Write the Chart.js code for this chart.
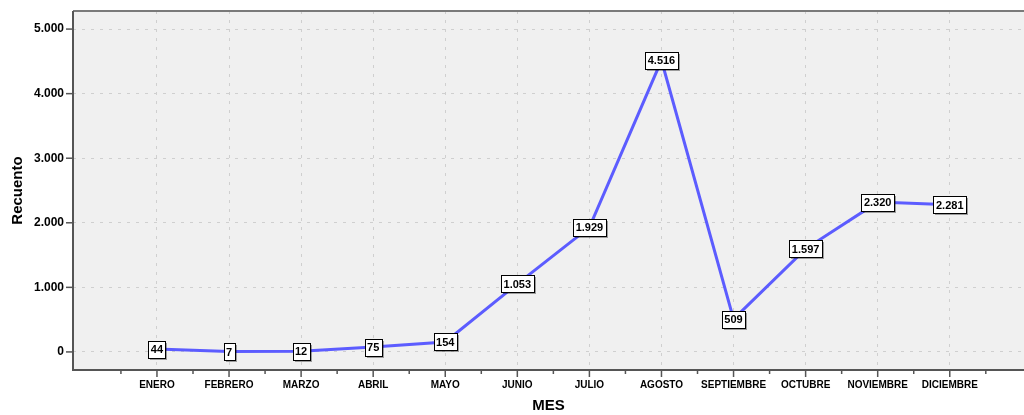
<!DOCTYPE html>
<html>
<head>
<meta charset="utf-8">
<script src="https://cdn.jsdelivr.net/npm/chart.js@4"></script>
<style>
  html, body { margin: 0; padding: 0; background: #fff; }
  #wrap { width: 1024px; height: 415px; }
</style>
</head>
<body>
<div id="wrap"><canvas id="chart" width="1024" height="415"></canvas></div>
<script>
const meses = ["ENERO", "FEBRERO", "MARZO", "ABRIL", "MAYO", "JUNIO", "JULIO", "AGOSTO", "SEPTIEMBRE", "OCTUBRE", "NOVIEMBRE", "DICIEMBRE"];
const recuento = [44, 7, 12, 75, 154, 1053, 1929, 4516, 509, 1597, 2320, 2281];
const yTicks = [0, 1000, 2000, 3000, 4000, 5000];

const FONT = "'Liberation Sans', Arial, sans-serif";

// 5000 -> "5.000"
function fmt(v) {
  return String(v).replace(/\B(?=(\d{3})+(?!\d))/g, ".");
}

const marco = {
  id: "marco",
  beforeDraw(chart) {
    const { ctx, chartArea: a } = chart;
    ctx.save();
    ctx.fillStyle = "#f0f0f0";
    ctx.fillRect(a.left, a.top, a.right - a.left, a.bottom - a.top);
    ctx.restore();
  },
  beforeDatasetsDraw(chart) {
    const { ctx, chartArea: a, scales } = chart;
    ctx.save();
    // borde superior
    ctx.strokeStyle = "#7a7a7a";
    ctx.lineWidth = 2;
    ctx.beginPath();
    ctx.moveTo(a.left, a.top);
    ctx.lineTo(a.right, a.top);
    ctx.stroke();
    // ejes
    ctx.strokeStyle = "#555";
    ctx.beginPath();
    ctx.moveTo(a.left, a.top);
    ctx.lineTo(a.left, a.bottom);
    ctx.lineTo(a.right, a.bottom);
    ctx.stroke();
    // marcas
    ctx.lineWidth = 1.5;
    scales.x.ticks.forEach(t => {
      const x = scales.x.getPixelForValue(t.value);
      const len = Number.isInteger(t.value) ? 7 : 4;
      ctx.beginPath();
      ctx.moveTo(x, a.bottom);
      ctx.lineTo(x, a.bottom + len);
      ctx.stroke();
    });
    scales.y.ticks.forEach(t => {
      const y = scales.y.getPixelForValue(t.value);
      ctx.beginPath();
      ctx.moveTo(a.left - 7, y);
      ctx.lineTo(a.left, y);
      ctx.stroke();
    });
    ctx.restore();
  },
  afterDatasetsDraw(chart) {
    const { ctx } = chart;
    const pts = chart.getDatasetMeta(0).data;
    ctx.save();
    ctx.font = "bold 11px " + FONT;
    ctx.textAlign = "center";
    ctx.textBaseline = "middle";
    pts.forEach((p, i) => {
      const txt = fmt(recuento[i]);
      const w = Math.round(ctx.measureText(txt).width) + 5;
      const h = 17;
      const x = Math.round(p.x - w / 2) + 0.5;
      const y = Math.round(p.y - h / 2) + 0.5;
      ctx.fillStyle = "rgba(0,0,0,0.35)";
      ctx.fillRect(x + 1.5, y + 1.5, w, h);
      ctx.fillStyle = "#fff";
      ctx.fillRect(x, y, w, h);
      ctx.strokeStyle = "#000";
      ctx.lineWidth = 1;
      ctx.strokeRect(x, y, w, h);
      ctx.fillStyle = "#000";
      ctx.fillText(txt, p.x, p.y + 1);
    });
    ctx.restore();
  }
};

new Chart(document.getElementById("chart"), {
  type: "line",
  data: {
    datasets: [{
      label: "Recuento",
      data: recuento.map((v, i) => ({ x: i, y: v })),
      borderColor: "#5c5cff",
      borderWidth: 3,
      pointRadius: 0,
      tension: 0,
      fill: false
    }]
  },
  options: {
    responsive: false,
    animation: false,
    layout: { padding: { top: 11, right: 0, left: 0, bottom: 0 } },
    plugins: { legend: { display: false }, tooltip: { enabled: false } },
    scales: {
      x: {
        type: "linear",
        min: -1.165,
        max: 12.03,
        afterBuildTicks(scale) {
          const t = [];
          meses.forEach((m, i) => { t.push({ value: i - 0.5 }); t.push({ value: i }); });
          t.push({ value: meses.length - 0.5 });
          scale.ticks = t;
        },
        afterFit(scale) {
          scale.height = 45;
          scale.paddingLeft = 0;
          scale.paddingRight = 0;
        },
        grid: {
          drawTicks: false,
          lineWidth: 1,
          color: c => (c.tick && Number.isInteger(c.tick.value)) ? "#cfcfcf" : "rgba(0,0,0,0)"
        },
        border: { display: false, dash: [3, 6] },
        ticks: {
          autoSkip: false,
          maxRotation: 0,
          padding: 9,
          color: "#000",
          font: { family: FONT, weight: "bold", size: 10 },
          callback: v => Number.isInteger(v) ? meses[v] : ""
        },
        title: {
          display: true,
          text: "MES",
          color: "#000",
          font: { family: FONT, weight: "bold", size: 15 },
          padding: { top: 7, bottom: 0 }
        }
      },
      y: {
        min: -280,
        max: 5280,
        afterBuildTicks(scale) { scale.ticks = yTicks.map(v => ({ value: v })); },
        afterFit(scale) {
          scale.width = 73;
          scale.paddingTop = 0;
          scale.paddingBottom = 0;
        },
        grid: { drawTicks: false, color: "#cfcfcf", lineWidth: 1 },
        border: { display: false, dash: [3, 6] },
        ticks: {
          padding: 9,
          color: "#000",
          font: { family: FONT, weight: "bold", size: 12 },
          callback: v => fmt(v)
        },
        title: {
          display: true,
          text: "Recuento",
          color: "#000",
          font: { family: FONT, weight: "bold", size: 15 },
          padding: { top: 9, bottom: 0 }
        }
      }
    }
  },
  plugins: [marco]
});
</script>
</body>
</html>
